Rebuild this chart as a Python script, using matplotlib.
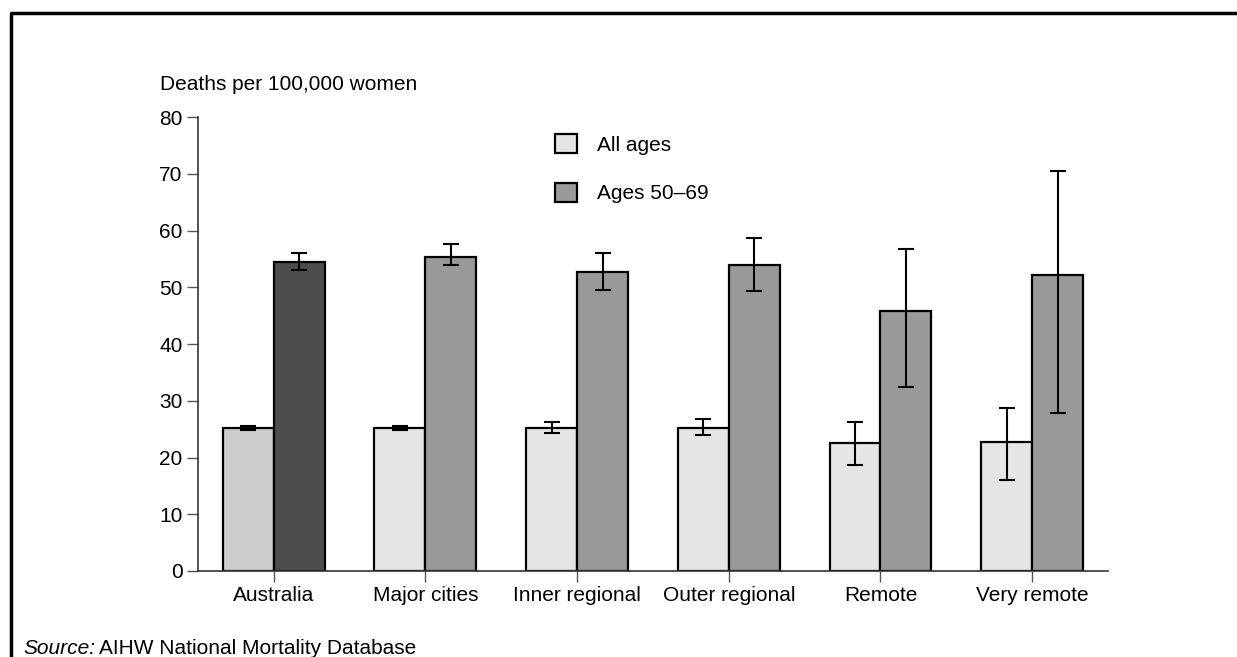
import numpy as np
import matplotlib.pyplot as plt
from matplotlib.patches import Patch
from matplotlib.lines import Line2D

plt.rcParams['font.family'] = ['Liberation Sans', 'DejaVu Sans']

categories = ['Australia', 'Major cities', 'Inner regional', 'Outer regional', 'Remote', 'Very remote']
all_ages = [25.2, 25.2, 25.2, 25.2, 22.5, 22.8]
all_ages_lo = [24.9, 24.8, 24.4, 24.0, 18.6, 16.0]
all_ages_hi = [25.5, 25.6, 26.3, 26.8, 26.3, 28.8]
ages_50_69 = [54.5, 55.4, 52.7, 54.0, 45.8, 52.1]
ages_50_69_lo = [53.0, 53.9, 49.5, 49.4, 32.5, 27.9]
ages_50_69_hi = [56.1, 57.6, 56.0, 58.6, 56.8, 70.4]

light = ['#cccccc'] + ['#e5e5e5'] * 5
dark = ['#4d4d4d'] + ['#999999'] * 5

FS = 15

fig = plt.figure(figsize=(12.37, 6.57), dpi=100)
ax = fig.add_axes([0.160, 0.1309, 0.7357, 0.691])

x = np.arange(len(categories))
w = 0.336
a = np.array(all_ages)
b = np.array(ages_50_69)
err_a = [a - np.array(all_ages_lo), np.array(all_ages_hi) - a]
err_b = [b - np.array(ages_50_69_lo), np.array(ages_50_69_hi) - b]

ax.bar(x - w / 2, a, w, color=light, edgecolor='black', linewidth=1.6, zorder=2)
ax.bar(x + w / 2, b, w, color=dark, edgecolor='black', linewidth=1.6, zorder=2)
ax.errorbar(x - w / 2, a, yerr=err_a, fmt='none', ecolor='black', elinewidth=1.5,
            capsize=5.5, capthick=1.5, zorder=3)
ax.errorbar(x + w / 2, b, yerr=err_b, fmt='none', ecolor='black', elinewidth=1.5,
            capsize=5.5, capthick=1.5, zorder=3)

ax.set_xlim(-0.5, 5.5)
ax.set_ylim(0, 80)
ax.set_yticks(range(0, 81, 10))
ax.set_xticks(x)
ax.set_xticklabels(categories)
ax.tick_params(axis='both', direction='out', length=8, width=1, color='#555555',
               labelsize=FS, pad=3)
for side in ['top', 'right']:
    ax.spines[side].set_visible(False)
for side in ['left', 'bottom']:
    ax.spines[side].set_color('#333333')
    ax.spines[side].set_linewidth(1.2)

handles = [Patch(facecolor='#e5e5e5', edgecolor='black', linewidth=1.6),
           Patch(facecolor='#999999', edgecolor='black', linewidth=1.6)]
ax.legend(handles, ['All ages', 'Ages 50\u201369'], loc='upper left',
          bbox_to_anchor=(0.392, 0.963), frameon=False, fontsize=FS,
          handlelength=1.05, handleheight=1.05, handletextpad=1.0,
          labelspacing=1.35, borderpad=0, borderaxespad=0)

fig.text(160 / 1237, 1 - 85 / 657, 'Deaths per 100,000 women', fontsize=FS,
         ha='left', va='center')
src = fig.text(23 / 1237, 1 - 648 / 657, 'Source:', fontsize=FS, style='italic',
               ha='left', va='center')
ax.annotate('AIHW National Mortality Database', xy=(1, 0.5), xycoords=src,
            xytext=(3, 0), textcoords='offset points', fontsize=FS,
            ha='left', va='center')

# frame around the figure (top and left edges)
fig.add_artist(Line2D([11 / 1237, 11 / 1237, 1.0], [0.0, 1 - 13 / 657, 1 - 13 / 657],
                      transform=fig.transFigure, color='black', linewidth=2.5))

fig.savefig('out.png', dpi=100)
